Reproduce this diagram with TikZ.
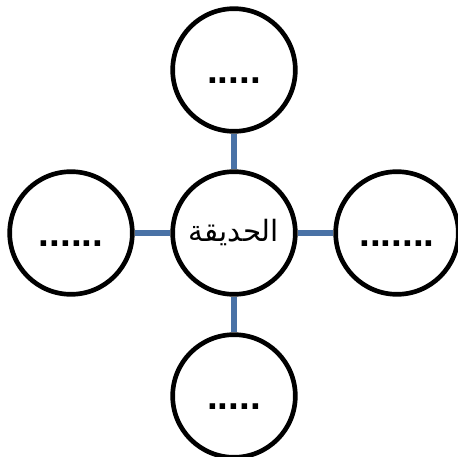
\documentclass[tikz,border=0pt]{standalone}
\usepackage{fontspec}
\setmainfont{Liberation Sans}
\newfontfamily\arabicfont[Script=Arabic]{DejaVu Sans}
\TeXXeTstate=1
\usetikzlibrary{positioning}
\definecolor{linkblue}{RGB}{74,114,166}

\begin{document}
\begin{tikzpicture}[bubble/.style={circle,draw,line width=3.5pt,minimum size=92pt,inner sep=0pt,font=\bfseries\fontsize{29}{50}\selectfont}, link/.style={draw=linkblue,line width=4pt}, node distance=26.75pt]
        \useasboundingbox (-175.5pt,-168pt) rectangle (168pt,174.75pt);
        \node[bubble, font=\arabicfont\fontsize{22}{26}\selectfont] (garden) {\beginR الحديقة\endR};
        \node[bubble, above=of garden] (top) {\strut.....};
        \node[bubble, below=of garden] (bottom) {\strut.....};
        \node[bubble, left=of garden] (left) {\strut......};
        \node[bubble, right=of garden] (right) {\strut.......};
        \path[link] (garden) -- (top);
        \path[link] (garden) -- (bottom);
        \path[link] (garden) -- (left);
        \path[link] (garden) -- (right);
    \end{tikzpicture}
\end{document}
